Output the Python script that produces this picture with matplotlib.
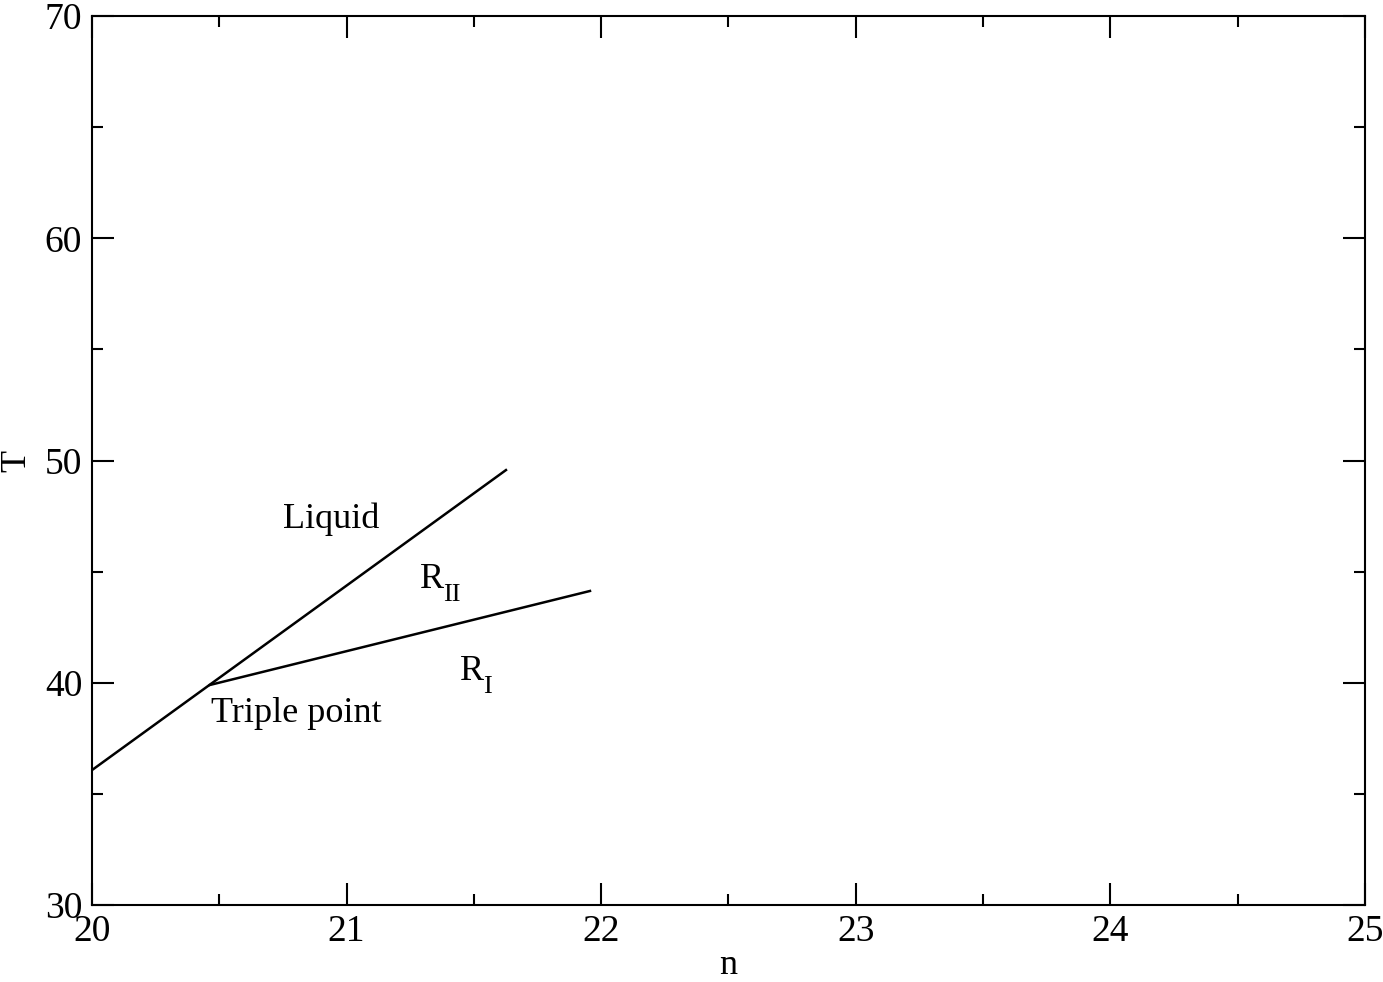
import matplotlib
matplotlib.use("Agg")
import matplotlib.pyplot as plt
from matplotlib.ticker import MultipleLocator

plt.rcParams['font.family'] = ['Liberation Serif', 'DejaVu Serif']

# Phase boundary lines (n, T)
liquid_n = [20.0, 21.626]
liquid_T = [36.07, 49.57]
r_n = [20.463, 21.956]
r_T = [39.9, 44.13]

labels = ["Liquid", "R", "R", "Triple point"]
subscripts = ["", "II", "I", ""]
label_n = [20.75, 21.288, 21.445, 20.467]
label_T = [46.96, 44.26, 40.12, 38.23]

fig = plt.figure(figsize=(13.83, 9.82), dpi=100)
ax = fig.add_axes([0.0665, 0.0784, 0.9205, 0.9053])

ax.plot(liquid_n, liquid_T, color='black', lw=1.8)
ax.plot(r_n, r_T, color='black', lw=1.8)

for s, sub, x, y in zip(labels, subscripts, label_n, label_T):
    ax.text(x, y, s, fontsize=26, ha='left', va='baseline')
    if sub:
        ax.annotate(sub, xy=(x, y), xytext=(16.5, -9.5), textcoords='offset points',
                    fontsize=19, ha='left', va='baseline')

ax.set_xlim(20, 25)
ax.set_ylim(30, 70)
ax.xaxis.set_major_locator(MultipleLocator(1))
ax.xaxis.set_minor_locator(MultipleLocator(0.5))
ax.yaxis.set_major_locator(MultipleLocator(10))
ax.yaxis.set_minor_locator(MultipleLocator(5))
ax.tick_params(which='both', direction='in', top=True, right=True, width=1.5, labelsize=27)
ax.tick_params(which='major', length=16, pad=7)
ax.tick_params(which='minor', length=8)
for sp in ax.spines.values():
    sp.set_linewidth(1.5)

ax.set_xlabel('n', fontsize=26, labelpad=0)
ax.set_ylabel('T', fontsize=26, labelpad=8)

fig.savefig('out.png', dpi=100)
